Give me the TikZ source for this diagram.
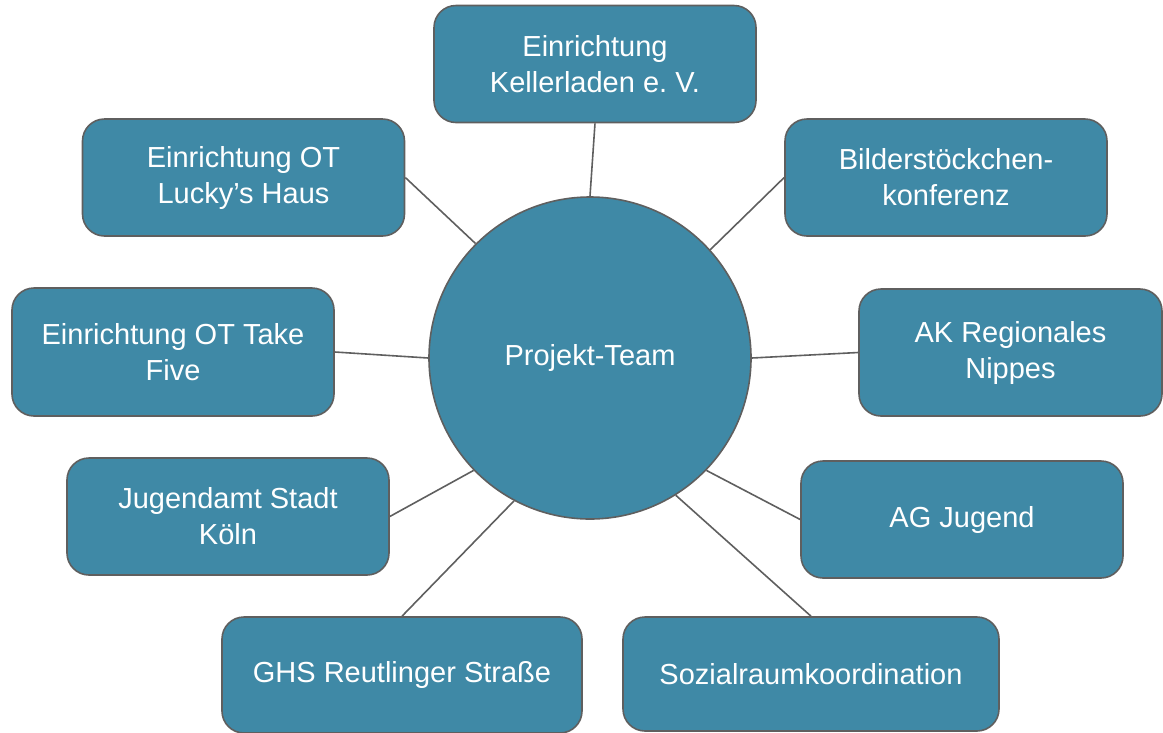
\documentclass[tikz,border=0pt]{standalone}
\usepackage{fontspec}
\setmainfont{Liberation Sans}
\definecolor{teamblue}{HTML}{3F89A6}
\definecolor{rimgray}{HTML}{5F5F5F}
\tikzset{
  orgbox/.style={draw=rimgray,line width=1.6pt,fill=teamblue,text=white,
    rounded corners=22pt,minimum width=322pt,minimum height=117pt,
    align=center,inner sep=2pt,font=\fontsize{29}{36}\selectfont},
  hub/.style={circle,draw=rimgray,line width=1.6pt,fill=teamblue,text=white,
    minimum size=322pt,inner sep=0pt,font=\fontsize{29}{36}\selectfont},
  link/.style={draw=rimgray,line width=1.6pt}
}
\begin{document}
\begin{tikzpicture}[x=1pt,y=-1pt]
        \useasboundingbox (0,0) rectangle (1163,732);

        %centre
        \node[hub] (team) at (590,358) {Projekt-Team};

        %boxes
        \node[orgbox] (keller) at (595,64) {Einrichtung\\Kellerladen e.\ V.};
        \node[orgbox] (lucky) at (243.5,177.5) {Einrichtung OT\\Lucky’s Haus};
        \node[orgbox] (bilder) at (946,177.5) {Bilderstöckchen-\\konferenz};
        \node[orgbox,minimum height=128pt] (takefive) at (173,352) {Einrichtung OT Take\\Five};
        \node[orgbox,minimum width=303pt,minimum height=127pt] (akreg) at (1010.5,352.5) {AK Regionales\\Nippes};
        \node[orgbox] (jugendamt) at (228,516.5) {Jugendamt Stadt\\Köln};
        \node[orgbox] (agjugend) at (962,519.5) {AG Jugend};
        \node[orgbox,minimum width=360pt,minimum height=116pt] (ghs) at (402,675) {GHS Reutlinger Straße};
        \node[orgbox,minimum width=376pt,minimum height=114pt] (sozial) at (811,674) {Sozialraumkoordination};

        %connectors
        \draw[link] (team.90) -- (keller.south);
        \draw[link] (team.135) -- (lucky.east);
        \draw[link] (team.42) -- (bilder.west);
        \draw[link] (team.180) -- (takefive.east);
        \draw[link] (team.0) -- (akreg.west);
        \draw[link] (team.224) -- (jugendamt.east);
        \draw[link] (team.316) -- (agjugend.west);
        \draw[link] (team.242) -- (ghs.north);
        \draw[link] (team.302) -- (sozial.north);

    \end{tikzpicture}
\end{document}
